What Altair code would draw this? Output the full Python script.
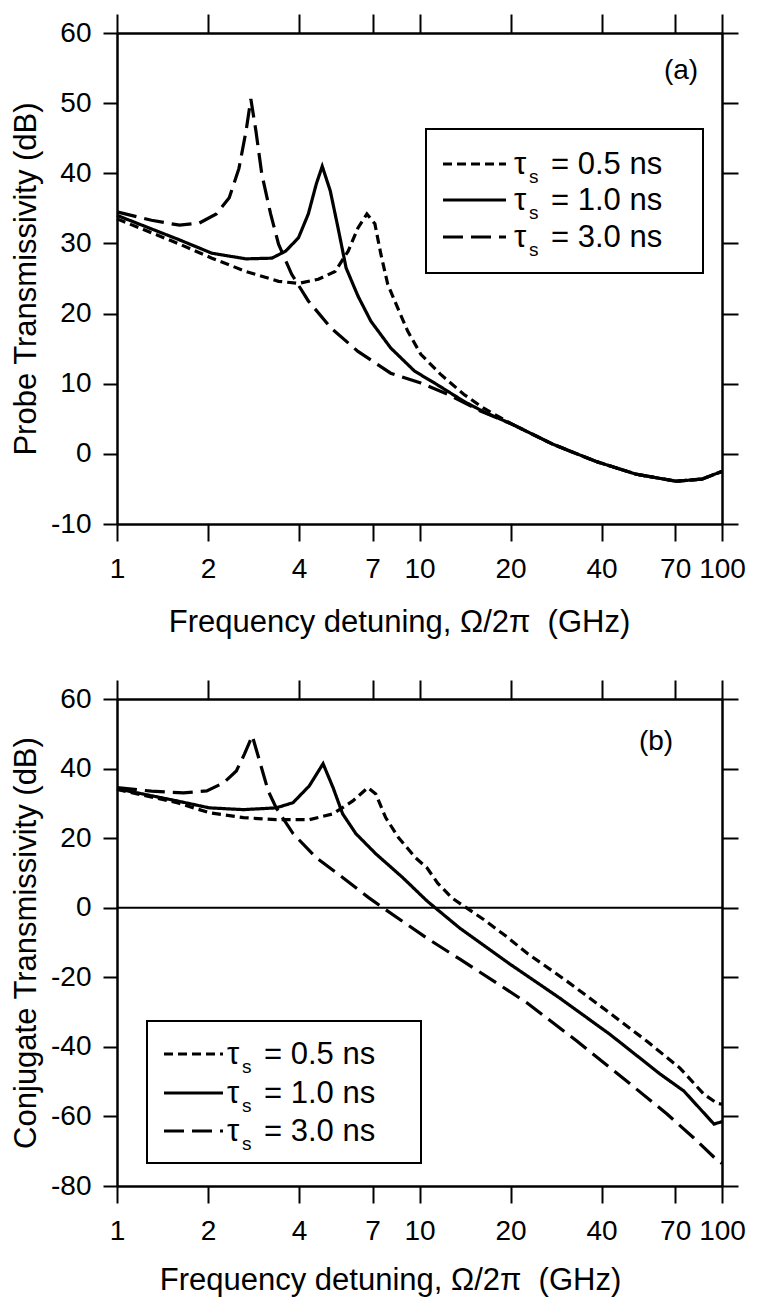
import altair as alt
import pandas as pd

FONT = "Liberation Sans"
FREQ_TICKS = [1, 2, 4, 7, 10, 20, 40, 70, 100]
SERIES = ["tau 0.5", "tau 1.0", "tau 3.0"]
TAU_TEXT = ["= 0.5 ns", "= 1.0 ns", "= 3.0 ns"]
DASHES = [[9, 5], [1, 0], [20, 8]]
A_TICKS = [-10, 0, 10, 20, 30, 40, 50, 60]
B_TICKS = [-80, -60, -40, -20, 0, 20, 40, 60]
XTITLE = "Frequency detuning, \u03a9/2\u03c0\u00a0 (GHz)"

# ---- panel (a): probe transmissivity ----
A05_F = [1, 1.61, 2.06, 2.67, 3.42, 3.98, 4.63, 5.26, 5.81, 6.26, 6.70, 7.12, 7.45, 7.85, 8.47, 9.14, 10.1, 11.7, 14.0, 16.3, 20.3, 27.5, 38.4, 52, 70.5, 85.9, 100]
A05_DB = [33.5, 29.9, 27.9, 26.0, 24.6, 24.3, 24.9, 26.0, 28.9, 32.2, 34.2, 32.8, 28.5, 24.2, 20.8, 17.5, 14.2, 11.4, 8.5, 6.5, 4.2, 1.4, -1.1, -2.9, -3.9, -3.6, -2.5]
A10_F = [1, 1.61, 2.06, 2.67, 3.25, 3.61, 3.98, 4.29, 4.56, 4.77, 5.07, 5.38, 5.72, 6.26, 6.91, 8.03, 9.63, 11.4, 14.0, 16.3, 20.3, 27.5, 38.4, 52, 70.5, 85.9, 100]
A10_DB = [34.0, 30.5, 28.6, 27.8, 27.9, 28.9, 30.8, 34.2, 38.5, 41.0, 37.5, 32.2, 26.5, 22.5, 18.9, 15.1, 11.8, 9.9, 7.5, 6.0, 4.2, 1.4, -1.1, -2.9, -3.9, -3.6, -2.5]
A30_F = [1, 1.3, 1.61, 1.87, 2.13, 2.35, 2.53, 2.67, 2.77, 2.88, 3.01, 3.22, 3.42, 3.78, 4.29, 5.11, 6.26, 8.03, 10.1, 12.4, 15.9, 20.3, 27.5, 38.4, 52, 70.5, 85.9, 100]
A30_DB = [34.5, 33.3, 32.6, 32.9, 34.2, 36.5, 40.7, 46.0, 50.6, 46.0, 39.9, 34.2, 29.9, 25.6, 21.8, 17.9, 14.6, 11.5, 10.1, 8.5, 6.1, 4.2, 1.4, -1.1, -2.9, -3.9, -3.6, -2.5]

# ---- panel (b): conjugate transmissivity ----
B05_F = [1, 1.58, 2.02, 2.62, 3.36, 4.32, 5.18, 6.02, 6.75, 7.17, 7.73, 8.53, 9.7, 10.6, 11.5, 12.8, 16.3, 19.2, 22.7, 30.7, 41.7, 56.5, 72.6, 87.1, 96.2, 100]
B05_DB = [34.0, 30.2, 27.3, 25.9, 25.3, 25.3, 27.0, 30.7, 34.5, 32.7, 25.9, 20.1, 14.4, 11.4, 7.0, 2.8, -3.4, -8.0, -13.1, -21.1, -29.7, -38.4, -46.1, -53.6, -56.2, -56.5]
B10_F = [1, 1.58, 2.02, 2.62, 3.36, 3.82, 4.32, 4.80, 5.18, 5.57, 6.16, 7.17, 8.79, 10.6, 13.6, 19.9, 29.1, 42.6, 62.4, 74.8, 94.1, 100]
B10_DB = [34.2, 30.7, 28.7, 28.2, 28.7, 30.2, 35.0, 41.4, 34.5, 27.0, 21.3, 15.5, 8.7, 1.9, -5.9, -16.2, -26.0, -36.4, -47.8, -52.7, -62.2, -61.5]
B30_F = [1, 1.3, 1.66, 1.98, 2.25, 2.48, 2.64, 2.80, 2.96, 3.16, 3.36, 3.82, 4.55, 5.57, 6.79, 7.62, 10.6, 13.6, 17.6, 22.7, 33.2, 48.5, 65.8, 80.7, 94.8, 100]
B30_DB = [34.5, 33.5, 33.0, 33.6, 35.9, 39.3, 44.2, 49.4, 42.2, 33.6, 28.7, 21.3, 14.4, 8.7, 2.9, -0.2, -8.8, -14.8, -21.1, -27.4, -38.4, -49.9, -59.3, -66.2, -72.0, -73.5]


def to_frame(parts):
    rows = []
    for name, fs, dbs in parts:
        for f, d in zip(fs, dbs):
            rows.append({"series": name, "f": f, "db": d})
    return pd.DataFrame(rows)


def legend_layers(box, line_x, rows_y, text_x):
    one = pd.DataFrame({"k": [0]})
    layers = [
        alt.Chart(one).mark_rect(fill="white", stroke="black", strokeWidth=2).encode(
            x=alt.value(box[0]), x2=alt.value(box[2]), y=alt.value(box[1]), y2=alt.value(box[3])
        )
    ]
    for dash, label, ry in zip(DASHES, TAU_TEXT, rows_y):
        layers.append(
            alt.Chart(one).mark_rule(color="black", strokeWidth=3.2, strokeDash=dash, strokeCap="butt").encode(
                x=alt.value(line_x[0]), x2=alt.value(line_x[1]), y=alt.value(ry)
            )
        )
        layers.append(
            alt.Chart(one).mark_text(text="\u03c4", font=FONT, fontSize=31, align="left", baseline="alphabetic", color="black").encode(
                x=alt.value(text_x), y=alt.value(ry + 10)
            )
        )
        layers.append(
            alt.Chart(one).mark_text(text="s", font=FONT, fontSize=19, align="left", baseline="alphabetic", color="black").encode(
                x=alt.value(text_x + 15), y=alt.value(ry + 19)
            )
        )
        layers.append(
            alt.Chart(one).mark_text(text=label, font=FONT, fontSize=31, align="left", baseline="alphabetic", color="black").encode(
                x=alt.value(text_x + 37), y=alt.value(ry + 10)
            )
        )
    return layers


def panel(df, ytitle, ydomain, yticks, h, title_x, title_pad, tag, tag_xy, legend, zero=False):
    xs = alt.Scale(type="log", domain=[1, 100], nice=False)
    ys = alt.Scale(domain=ydomain, nice=False, zero=False)
    base = alt.Chart(df)
    lines = base.mark_line(color="black", strokeWidth=3.2, strokeCap="butt").encode(
        x=alt.X("f:Q", scale=xs, axis=alt.Axis(orient="bottom", values=FREQ_TICKS, labelExpr="'' + datum.value",
                                               title=XTITLE, titleX=title_x, tickSize=17, labelPadding=14,
                                               titlePadding=title_pad, labelFlush=False, labelOverlap=False)),
        y=alt.Y("db:Q", scale=ys, axis=alt.Axis(orient="left", values=yticks, labelExpr="'' + datum.value",
                                                title=ytitle, tickSize=14, labelPadding=12, titlePadding=8)),
        strokeDash=alt.StrokeDash("series:N", scale=alt.Scale(domain=SERIES, range=DASHES), legend=None),
    )
    mirror = base.mark_line(strokeOpacity=0).encode(
        x=alt.X("f:Q", scale=xs, axis=alt.Axis(orient="top", values=FREQ_TICKS, labels=False, title=None, tickSize=19)),
        y=alt.Y("db:Q", scale=ys, axis=alt.Axis(orient="right", values=yticks, labels=False, title=None, tickSize=16)),
        detail="series:N",
    )
    layers = [lines, mirror]
    if zero:
        layers.insert(0, alt.Chart(pd.DataFrame({"v": [0]})).mark_rule(color="black", strokeWidth=2).encode(
            y=alt.Y("v:Q", scale=ys, axis=None)))
    layers += legend_layers(*legend)
    layers.append(
        alt.Chart(pd.DataFrame({"k": [0]})).mark_text(text=tag, font=FONT, fontSize=28, align="center",
                                                      baseline="middle", color="black").encode(
            x=alt.value(tag_xy[0]), y=alt.value(tag_xy[1]))
    )
    return alt.layer(*layers).resolve_axis(x="independent", y="independent").properties(width=605, height=h)


df_a = to_frame([(SERIES[0], A05_F, A05_DB), (SERIES[1], A10_F, A10_DB), (SERIES[2], A30_F, A30_DB)])
df_b = to_frame([(SERIES[0], B05_F, B05_DB), (SERIES[1], B10_F, B10_DB), (SERIES[2], B30_F, B30_DB)])

top = panel(df_a, "Probe Transmissivity (dB)", [-10, 60], A_TICKS, 491, 282, 24, "(a)", (564, 38),
            ((309, 96, 586, 240), (326, 389), (131, 167, 204), 397))
bottom = panel(df_b, "Conjugate Transmissivity (dB)", [-80, 60], B_TICKS, 487, 273, 20, "(b)", (539, 43),
               ((30, 322, 304, 464), (47, 106), (355, 394, 432), 110), zero=True)

chart = alt.vconcat(top, bottom, spacing=42).properties(
    padding={"left": 10, "top": 13, "right": 5, "bottom": 2}
).configure_axis(
    domainColor="black", domainWidth=2.5, tickColor="black", tickWidth=2,
    labelFont=FONT, labelFontSize=28, labelColor="black",
    titleFont=FONT, titleFontSize=31, titleFontWeight="normal", titleColor="black", grid=False
).configure_view(strokeWidth=0)

chart.save("out.html", embed_options={"renderer": "svg", "actions": False})
